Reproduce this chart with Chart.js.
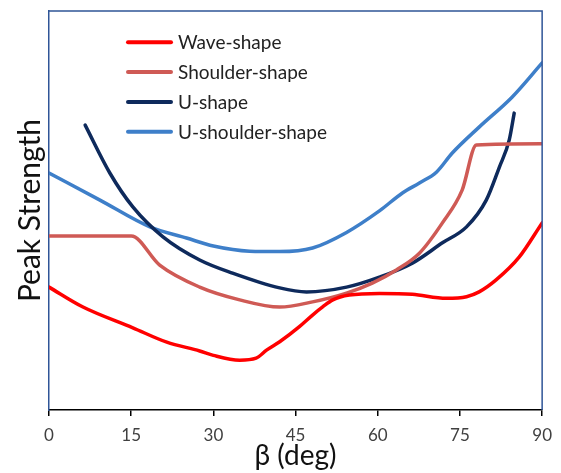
<!DOCTYPE html>
<html>
<head>
<meta charset="utf-8">
<script src="https://cdn.jsdelivr.net/npm/chart.js@4/dist/chart.umd.min.js"></script>
<style>
  html, body { margin: 0; padding: 0; background: #fff; }
</style>
</head>
<body>
<canvas id="peakChart" width="561" height="473"></canvas>
<script>
// beta ticks along the bottom axis
const betaTicks = [0, 15, 30, 45, 60, 75, 90];

// Wave-shape
const waveBeta     = [0, 6.2, 15.3, 21.5, 27.5, 30, 34.8, 37.8, 39.7, 42.1, 45.7, 48.1, 50, 51.8, 54.8, 60.3, 66.3, 72.5, 76.2, 78.5, 81.6, 85.8, 90];
const waveStrength = [30.8, 25.8, 20.6, 17.0, 14.8, 13.7, 12.5, 13.0, 15.0, 17.1, 20.9, 23.8, 25.9, 27.6, 28.8, 29.2, 29.0, 28.0, 28.4, 29.6, 32.6, 38.3, 46.9];

// Shoulder-shape
const shoulderBeta     = [0, 15, 20.2, 27.5, 34.8, 42.1, 48.1, 54.3, 59, 63.4, 67.6, 71.8, 75.4, 78, 90];
const shoulderStrength = [43.6, 43.6, 36.3, 30.8, 27.6, 25.8, 27.1, 29.3, 31.8, 35.1, 39.3, 46.9, 55.1, 66.4, 66.7];

// U-shape
const uBeta     = [6.6, 11.1, 15.3, 20.8, 27.5, 33.5, 42.1, 47, 54.3, 60.3, 66.3, 71.8, 76.2, 79.8, 82.2, 84, 84.9];
const uStrength = [71.4, 59.4, 50.9, 43.4, 37.6, 34.3, 30.6, 29.6, 30.8, 33.3, 36.8, 41.9, 45.9, 52.6, 60.9, 67.7, 74.4];

// U-shoulder-shape
const uShoulderBeta     = [0, 9.3, 18.4, 25.1, 30, 36.6, 42.1, 48.1, 54.3, 60.3, 64.5, 67.6, 70.7, 73.6, 78.5, 84.5, 90];
const uShoulderStrength = [59.4, 52.6, 45.9, 43.1, 41.1, 39.8, 39.7, 40.6, 44.5, 49.9, 54.4, 56.9, 59.6, 64.4, 70.9, 78.4, 87.0];

const pairs = (xs, ys) => xs.map((x, i) => ({ x, y: ys[i] }));

function series(label, xs, ys, color) {
  return {
    label,
    data: pairs(xs, ys),
    borderColor: color,
    borderWidth: 3.5,
    pointRadius: 0,
    fill: false,
    cubicInterpolationMode: 'monotone',
    borderCapStyle: 'round'
  };
}

// legend drawn inside the plot, top left
const insideLegend = {
  id: 'insideLegend',
  afterDatasetsDraw(chart) {
    const ctx = chart.ctx;
    ctx.save();
    ctx.font = '19px Lato';
    ctx.textBaseline = 'middle';
    chart.data.datasets.forEach((ds, i) => {
      const y = 42.3 + i * 29.8;
      ctx.strokeStyle = ds.borderColor;
      ctx.lineWidth = 4;
      ctx.lineCap = 'round';
      ctx.beginPath();
      ctx.moveTo(128, y);
      ctx.lineTo(171, y);
      ctx.stroke();
      ctx.fillStyle = '#222';
      ctx.fillText(ds.label, 178, y + 1);
    });
    ctx.restore();
  }
};

// blue box on the top and right sides
const frame = {
  id: 'frame',
  afterDraw(chart) {
    const { ctx, chartArea: a } = chart;
    ctx.save();
    ctx.strokeStyle = '#2F5597';
    ctx.lineWidth = 1.5;
    ctx.beginPath();
    ctx.moveTo(a.left, a.top);
    ctx.lineTo(a.right, a.top);
    ctx.lineTo(a.right, a.bottom);
    ctx.stroke();
    ctx.restore();
  }
};

Chart.defaults.font.family = 'Lato';

new Chart(document.getElementById('peakChart').getContext('2d'), {
  type: 'line',
  data: {
    datasets: [
      series('Wave-shape', waveBeta, waveStrength, '#FF0000'),
      series('Shoulder-shape', shoulderBeta, shoulderStrength, '#CF5A55'),
      series('U-shape', uBeta, uStrength, '#0E2A5C'),
      series('U-shoulder-shape', uShoulderBeta, uShoulderStrength, '#3E7FC9')
    ]
  },
  options: {
    responsive: false,
    animation: false,
    layout: { padding: { top: 11, right: 18, left: 0, bottom: 0 } },
    plugins: { legend: { display: false }, tooltip: { enabled: false } },
    scales: {
      x: {
        type: 'linear',
        min: 0,
        max: 90,
        afterBuildTicks: s => { s.ticks = betaTicks.map(v => ({ value: v })); },
        afterFit: s => { s.height = 63; },
        ticks: { color: '#404040', font: { size: 17 }, padding: 9, maxRotation: 0 },
        grid: { drawOnChartArea: false, color: '#000', lineWidth: 1.5, tickLength: 6 },
        border: { color: '#000', width: 1.5 },
        title: { display: true, text: 'β (deg)', color: '#111', font: { size: 28 }, padding: { top: 0, bottom: 0 } }
      },
      y: {
        min: 0,
        max: 100,
        afterFit: s => { s.width = 49; },
        ticks: { display: false },
        grid: { display: false },
        border: { color: '#2F5597', width: 1.5 },
        title: { display: true, text: 'Peak Strength', color: '#111', font: { size: 30 }, padding: { top: 12, bottom: 0 } }
      }
    }
  },
  plugins: [insideLegend, frame]
});
</script>
</body>
</html>
